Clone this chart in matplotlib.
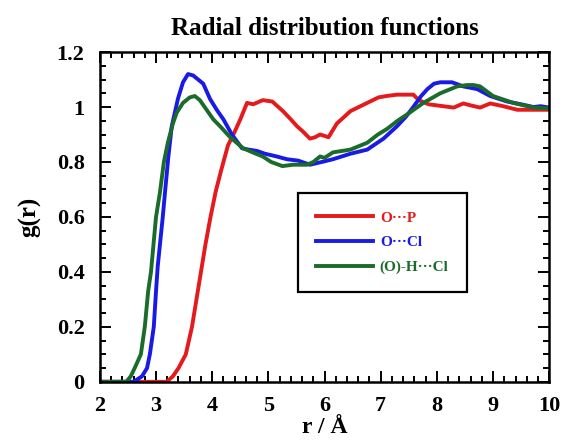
import numpy as np
import matplotlib.pyplot as plt
from matplotlib.ticker import MultipleLocator, FormatStrFormatter

plt.rcParams["font.family"] = ["Liberation Serif", "DejaVu Serif"]
plt.rcParams["font.weight"] = "bold"

# O...P
r_op = [2.0, 3.19, 3.3, 3.4, 3.53, 3.64, 3.72, 3.8, 3.88, 3.97, 4.06, 4.16, 4.28,
        4.4, 4.5, 4.62, 4.73, 4.9, 5.07, 5.26, 5.4, 5.51, 5.62, 5.74, 5.83, 5.92,
        6.0, 6.07, 6.22, 6.46, 6.76, 6.96, 7.1, 7.29, 7.45, 7.58, 7.68, 7.85, 8.11,
        8.3, 8.47, 8.62, 8.77, 8.95, 9.18, 9.43, 9.7, 10.0]
g_op = [0, 0, 0.02, 0.05, 0.1, 0.2, 0.3, 0.4, 0.5, 0.6, 0.69, 0.77, 0.86,
        0.91, 0.955, 1.015, 1.01, 1.025, 1.02, 0.985, 0.955, 0.93, 0.91, 0.885, 0.89, 0.9,
        0.895, 0.89, 0.94, 0.985, 1.015, 1.035, 1.04, 1.045, 1.045, 1.045, 1.025, 1.01, 1.003,
        0.998, 1.013, 1.005, 0.998, 1.013, 1.003, 0.99, 0.99, 0.99]

# O...Cl
r_ocl = [2.0, 2.6, 2.75, 2.84, 2.89, 2.96, 3.0, 3.03, 3.12, 3.16, 3.22, 3.28, 3.39,
         3.48, 3.57, 3.66, 3.75, 3.84, 3.96, 4.08, 4.2, 4.35, 4.53, 4.65, 4.8, 4.94,
         5.15, 5.33, 5.53, 5.74, 5.95, 6.15, 6.46, 6.76, 7.05, 7.29, 7.45, 7.58, 7.72,
         7.83, 7.95, 8.06, 8.27, 8.47, 8.6, 8.72, 8.95, 9.25, 9.5, 9.72, 9.85, 10.0]
g_ocl = [0, 0, 0.02, 0.05, 0.1, 0.2, 0.33, 0.42, 0.6, 0.69, 0.82, 0.93, 1.03,
         1.09, 1.12, 1.115, 1.1, 1.085, 1.03, 0.99, 0.955, 0.9, 0.85, 0.845, 0.84, 0.83,
         0.82, 0.81, 0.805, 0.79, 0.8, 0.81, 0.83, 0.845, 0.885, 0.93, 0.965, 1.0, 1.04,
         1.065, 1.085, 1.09, 1.09, 1.075, 1.07, 1.065, 1.04, 1.02, 1.01, 1.0, 1.003, 0.998]

# (O)-H...Cl
r_ohcl = [2.0, 2.47, 2.55, 2.62, 2.73, 2.8, 2.86, 2.91, 3.0, 3.07, 3.14, 3.21, 3.3,
          3.37, 3.48, 3.6, 3.69, 3.78, 3.9, 4.02, 4.14, 4.32, 4.55, 4.72, 4.9, 5.05,
          5.25, 5.44, 5.69, 5.8, 5.92, 6.0, 6.15, 6.46, 6.76, 6.95, 7.11, 7.3, 7.47,
          7.76, 8.06, 8.36, 8.54, 8.65, 8.77, 9.0, 9.36, 9.72, 10.0]
g_ohcl = [0, 0, 0.02, 0.05, 0.1, 0.2, 0.33, 0.4, 0.6, 0.69, 0.8, 0.87, 0.94,
          0.98, 1.015, 1.035, 1.04, 1.025, 0.99, 0.955, 0.93, 0.89, 0.85, 0.835, 0.82, 0.8,
          0.785, 0.79, 0.79, 0.8, 0.82, 0.815, 0.835, 0.845, 0.87, 0.9, 0.92, 0.95, 0.973,
          1.015, 1.05, 1.075, 1.08, 1.08, 1.075, 1.04, 1.015, 0.998, 0.995]

labels = ["O\u00b7\u00b7\u00b7P", "O\u00b7\u00b7\u00b7Cl", "(O)-H\u00b7\u00b7\u00b7Cl"]
colors = ["#e41a1c", "#1a1ae6", "#1b6b2a"]

fig = plt.figure(figsize=(5.61, 4.45), dpi=100)
ax = fig.add_axes([0.178, 0.142, 0.801, 0.741])

for r, g, lab, c in zip([r_op, r_ocl, r_ohcl], [g_op, g_ocl, g_ohcl], labels, colors):
    ax.plot(r, g, color=c, linewidth=2.8, label=lab)

ax.set_xlim(2, 10)
ax.set_ylim(0, 1.2)
ax.xaxis.set_major_locator(MultipleLocator(1))
ax.xaxis.set_minor_locator(MultipleLocator(0.2))
ax.yaxis.set_major_locator(MultipleLocator(0.2))
ax.yaxis.set_minor_locator(MultipleLocator(0.05))
ax.yaxis.set_major_formatter(FormatStrFormatter("%g"))
ax.tick_params(which="both", direction="in", top=True, right=True, width=1.4)
ax.tick_params(which="major", length=8, labelsize=16, pad=11)
ax.tick_params(axis="x", which="major", pad=10)
ax.tick_params(which="minor", length=4)
for s in ax.spines.values():
    s.set_linewidth(1.8)

ax.set_title("Radial distribution functions", fontsize=18, fontweight="bold", pad=12)
ax.set_xlabel("r / \u00c5", fontsize=17, fontweight="bold", labelpad=1)
ax.set_ylabel("g(r)", fontsize=18, fontweight="bold", labelpad=11)

leg = ax.legend(loc="upper left", bbox_to_anchor=(0.441, 0.574), borderaxespad=0,
                fontsize=11, handlelength=3.7, handletextpad=0.45, labelspacing=0.72,
                borderpad=1.2, fancybox=False, framealpha=1, edgecolor="black")
leg.get_frame().set_linewidth(1.6)
for t, c in zip(leg.get_texts(), colors):
    t.set_color(c)
    t.set_fontweight("bold")

fig.savefig("out.png", dpi=100)
